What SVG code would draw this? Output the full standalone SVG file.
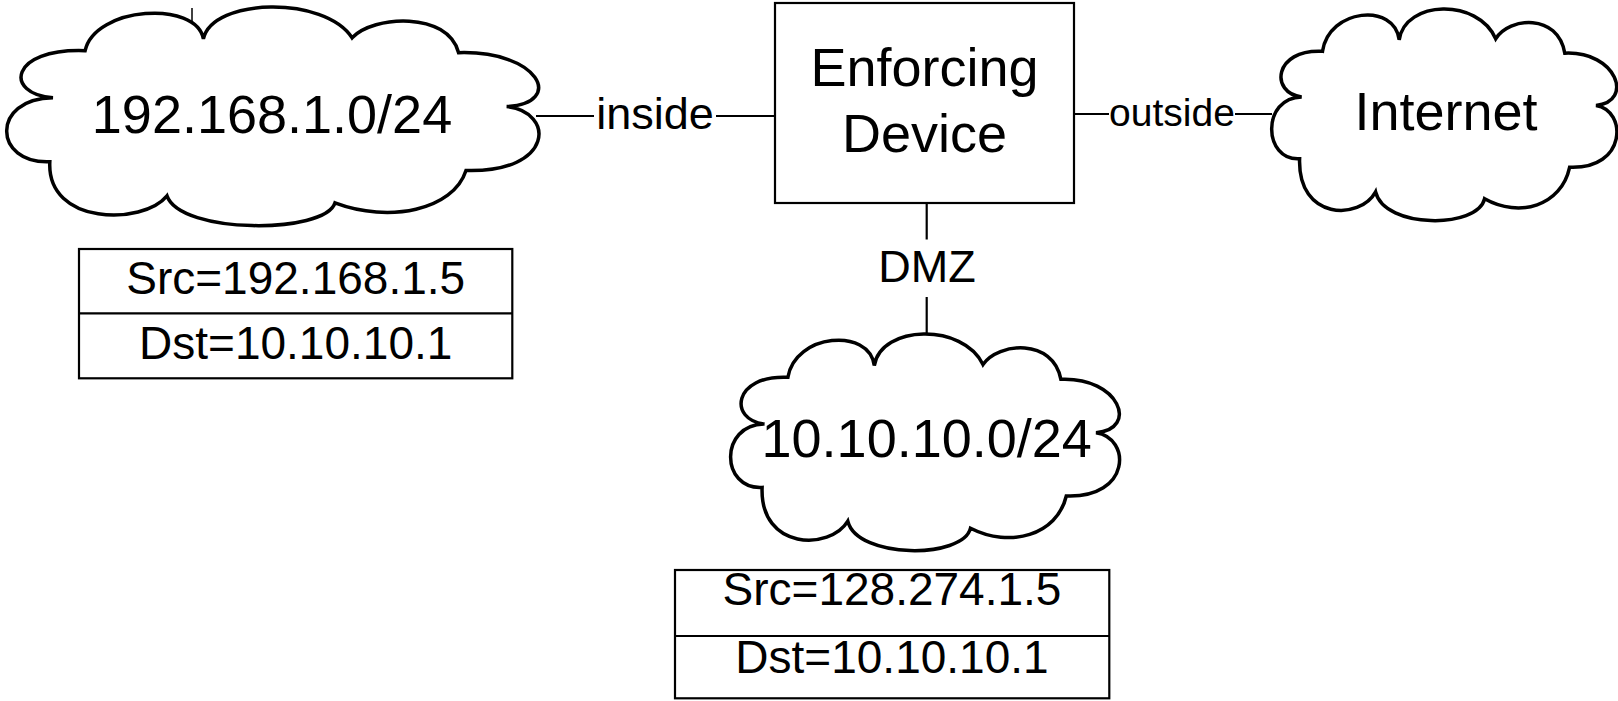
<svg xmlns="http://www.w3.org/2000/svg" width="1618" height="701" viewBox="0 0 1618 701">
<style>
.cloud{fill:#fff;stroke:#000;stroke-width:3.5;stroke-linejoin:miter}
.box{fill:#fff;stroke:#000;stroke-width:2.2}
.wire{stroke:#000;stroke-width:2.2;fill:none}
text{font-family:"Liberation Sans",Arial,sans-serif;fill:#000;text-anchor:middle}
.big{font-size:54px}
.mid{font-size:46px}
.lbl{font-size:45px}
.sml{font-size:39px}
</style>
<g id="connectors">
<line class="wire" x1="192" y1="8" x2="192" y2="32" style="stroke-width:1.5"/>
<line class="wire" x1="536" y1="116" x2="594" y2="116"/>
<line class="wire" x1="716" y1="116" x2="775" y2="116"/>
<line class="wire" x1="1074" y1="114" x2="1109" y2="114"/>
<line class="wire" x1="1235" y1="114" x2="1272" y2="114"/>
<line class="wire" x1="926.7" y1="203" x2="926.7" y2="239.5"/>
<line class="wire" x1="926.7" y1="297" x2="926.7" y2="334"/>
</g>
<g id="labels">
<text class="lbl" x="655" y="129.3">inside</text>
<text class="sml" x="1172" y="126">outside</text>
<text class="lbl" x="927" y="281.7">DMZ</text>
</g>
<g id="net-inside">
<path class="cloud" d="M85.1,50.7 C94.8,6.5 196.4,-0.1 203.4,38.9 C212.5,-2.3 324.8,-4.5 352.1,37.8 C373.0,15.3 447.9,10.9 458.6,52.7 C538.8,50.3 565.6,102.9 506.7,106.6 C554.9,111.6 554.9,172.9 466.0,170.5 C453.2,210.2 389.0,223.3 335.0,202.9 C324.8,234.3 180.4,234.3 167.0,195.9 C142.9,225.5 46.6,225.5 49.8,161.8 C-6.9,164.2 -9.6,98.5 53.0,97.8 C3.8,94.1 9.2,48.1 85.1,50.7 Z"/>
<text class="big" x="272" y="133">192.168.1.0/24</text>
</g>
<g id="enforcing-device">
<rect class="box" x="775" y="3" width="299" height="200"/>
<text class="big" x="924.5" y="86">Enforcing</text>
<text class="big" x="924.5" y="151.7">Device</text>
</g>
<g id="internet">
<path class="cloud" d="M1322.5,51.3 C1328.8,8.5 1394.7,2.1 1399.2,39.9 C1405.1,0.0 1478.0,-2.1 1495.7,38.8 C1509.2,17.0 1557.8,12.7 1564.8,53.2 C1616.8,50.9 1634.2,101.8 1596.0,105.4 C1627.2,110.3 1627.2,169.6 1569.6,167.3 C1561.3,205.7 1519.6,218.4 1484.6,198.7 C1478.0,229.0 1384.3,229.0 1375.6,191.9 C1360.0,220.5 1297.6,220.5 1299.6,158.8 C1262.9,161.1 1261.1,97.5 1301.7,96.9 C1269.8,93.3 1273.3,48.8 1322.5,51.3 Z"/>
<text class="big" x="1446" y="130">Internet</text>
</g>
<g id="net-dmz">
<path class="cloud" d="M787.9,377.3 C795.0,333.5 869.3,327.0 874.3,365.6 C881.0,324.8 963.1,322.7 983.0,364.5 C998.3,342.2 1053.0,337.8 1060.9,379.3 C1119.5,376.9 1139.1,429.0 1096.0,432.7 C1131.2,437.7 1131.2,498.4 1066.3,496.0 C1056.9,535.3 1010.0,548.3 970.5,528.2 C963.1,559.2 857.5,559.2 847.8,521.2 C830.2,550.5 759.8,550.5 762.1,487.4 C720.7,489.7 718.7,424.6 764.5,424.0 C728.5,420.3 732.4,374.7 787.9,377.3 Z"/>
<text class="big" x="926.7" y="456.7">10.10.10.0/24</text>
</g>
<g id="packet-inside">
<rect class="box" x="79" y="249" width="433.3" height="129.3"/>
<line class="wire" x1="79" y1="313.3" x2="512.3" y2="313.3"/>
<text class="mid" x="295.7" y="294.3">Src=192.168.1.5</text>
<text class="mid" x="295.7" y="359.3">Dst=10.10.10.1</text>
</g>
<g id="packet-dmz">
<rect class="box" x="675" y="570" width="434.3" height="128.3"/>
<line class="wire" x1="675" y1="636" x2="1109.3" y2="636"/>
<text class="mid" x="892" y="605">Src=128.274.1.5</text>
<text class="mid" x="892" y="673.3">Dst=10.10.10.1</text>
</g>
</svg>
